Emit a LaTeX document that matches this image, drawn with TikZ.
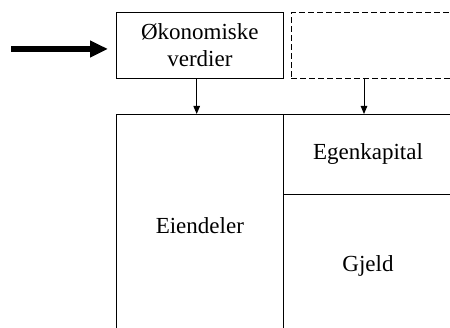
\documentclass[tikz,border=0pt]{standalone}
\usepackage{fontspec}
\setmainfont{Liberation Serif}
\usetikzlibrary{arrows.meta}
\begin{document}
\begin{tikzpicture}[x=1pt,y=-1pt,
  box/.style={draw,line width=1pt,inner sep=0pt,align=center,font=\fontsize{23}{26.5}\selectfont},
  thin/.style={line width=1pt,-{Triangle[length=8pt,width=6.5pt]}},
  big/.style={line width=5.5pt,-{Triangle[length=18pt,width=16pt]}}]
\useasboundingbox (0,0) rectangle (450,328);
\clip (0,0) rectangle (450,328);
\node[box,anchor=north west,minimum width=167.3pt,minimum height=65.7pt] (okon) at (115.7,12) {Økonomiske\\verdier};
\node[box,dash pattern=on 6pt off 3pt,anchor=north west,minimum width=167.3pt,minimum height=65.7pt] (dash) at (290.7,12) {};
\node[box,anchor=north west,minimum width=167.3pt,minimum height=222pt] (eien) at (115.7,114) {Eiendeler};
\node[box,anchor=north west,minimum width=169pt,minimum height=80pt] (egen) at (283,114) {Egenkapital};
\node[box,anchor=north west,minimum width=169pt,minimum height=142pt] (gjeld) at (283,194) {Gjeld};
\coordinate (s) at (11,49);
\coordinate (a1) at (196.7,0);
\coordinate (a2) at (364,0);
\draw[big,shorten >=7.7pt] (s) -- (s -| okon.west);
\draw[thin] (okon.south -| a1) -- (eien.north -| a1);
\draw[thin] (dash.south -| a2) -- (egen.north -| a2);
\end{tikzpicture}
\end{document}
